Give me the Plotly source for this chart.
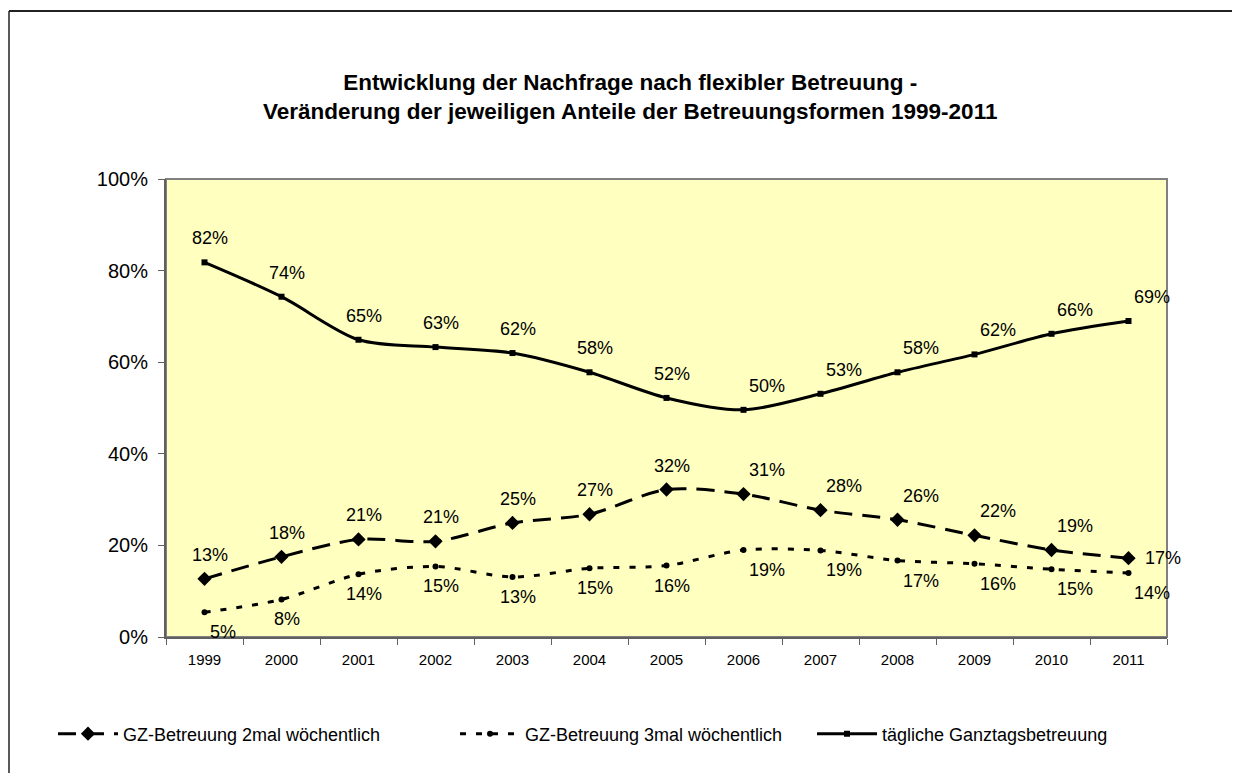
import plotly.graph_objects as go

years = ["1999", "2000", "2001", "2002", "2003", "2004", "2005", "2006", "2007", "2008", "2009", "2010", "2011"]
gz2 = [0.127, 0.175, 0.213, 0.209, 0.249, 0.268, 0.322, 0.312, 0.277, 0.256, 0.222, 0.190, 0.172]
gz3 = [0.054, 0.082, 0.137, 0.154, 0.131, 0.150, 0.156, 0.190, 0.189, 0.167, 0.160, 0.148, 0.140]
ganztag = [0.818, 0.743, 0.649, 0.633, 0.620, 0.578, 0.522, 0.496, 0.531, 0.578, 0.617, 0.662, 0.690]

names = ["GZ-Betreuung 2mal wöchentlich", "GZ-Betreuung 3mal wöchentlich", "tägliche Ganztagsbetreuung"]
title_lines = ["Entwicklung der Nachfrage nach flexibler Betreuung -",
               "Veränderung der jeweiligen Anteile der Betreuungsformen 1999-2011"]

# label placement codes: t=top, b=bottom, m=middle; c=center, r=right
pos_gz2 = ["tc"] * 7 + ["tr"] * 5 + ["mr"]
pos_gz3 = ["br", "bc", "bc", "bc", "bc", "bc", "bc", "br", "br", "br", "br", "br", "br"]
pos_gt = ["tc"] * 7 + ["tr"] * 6

FONT = "Liberation Sans, Arial, sans-serif"

# page geometry (the figure sits 8px in from the page corner)
OFF = 8
PL, PR, PT, PB = 166, 1167, 179, 637
PW, PH = PR - PL, PB - PT


def px(x):
    return (x - PL) / PW


def py(y):
    return (PB - y) / PH


SMOOTH = 0.85

fig = go.Figure()
fig.add_trace(go.Scatter(
    x=years, y=gz2, name=names[0], mode="lines+markers",
    line=dict(color="black", width=3, dash="18px,10px", shape="spline", smoothing=SMOOTH),
    marker=dict(symbol="diamond", size=11, color="black"),
    legend="legend"))
fig.add_trace(go.Scatter(
    x=years, y=gz3, name=names[1], mode="lines+markers",
    line=dict(color="black", width=3, dash="6px,10px", shape="spline", smoothing=SMOOTH),
    marker=dict(symbol="circle", size=6, color="black"),
    legend="legend2"))
fig.add_trace(go.Scatter(
    x=years, y=ganztag, name=names[2], mode="lines+markers",
    line=dict(color="black", width=3, shape="spline", smoothing=SMOOTH),
    marker=dict(symbol="square", size=6, color="black"),
    legend="legend3"))

annotations = []
for vals, poss in [(gz2, pos_gz2), (gz3, pos_gz3), (ganztag, pos_gt)]:
    for i, (v, p) in enumerate(zip(vals, poss)):
        a = dict(x=i, y=v, xref="x", yref="y", text=f"{round(v*100)}%", showarrow=False,
                 font=dict(family=FONT, size=18, color="black"))
        if p[0] == "t":
            a.update(yanchor="bottom", yshift=12)
        elif p[0] == "b":
            a.update(yanchor="top", yshift=-8)
        else:
            a.update(yanchor="middle")
        if p[1] == "c":
            a.update(xanchor="center", xshift=5)
        else:
            a.update(xanchor="left", xshift=3 if p[0] != "m" else 14)
        annotations.append(a)

annotations.append(dict(
    text="<b>" + title_lines[0] + "</b><br><b>" + title_lines[1] + "</b>",
    xref="paper", yref="paper", x=px(630), y=py(97),
    xanchor="center", yanchor="middle", showarrow=False,
    font=dict(family=FONT, size=22.5, color="black")))

leg = dict(y=py(734), xanchor="left", yanchor="middle", orientation="h",
           font=dict(size=18), bgcolor="rgba(0,0,0,0)", itemwidth=60)

fig.update_layout(
    width=1240, height=773,
    margin=dict(l=PL - OFF, r=1240 - (PR - OFF), t=PT - OFF, b=773 - (PB - OFF)),
    paper_bgcolor="white", plot_bgcolor="#FFFFC0",
    font=dict(family=FONT, color="black"),
    showlegend=True,
    annotations=annotations,
    legend=dict(leg, x=px(53)),
    legend2=dict(leg, x=px(455)),
    legend3=dict(leg, x=px(812)),
    shapes=[
        dict(type="line", xref="paper", yref="paper", x0=px(OFF + 1), x1=px(1250),
             y0=py(11), y1=py(11), line=dict(color="#222", width=2)),
        dict(type="line", xref="paper", yref="paper", x0=px(OFF + 1), x1=px(OFF + 1),
             y0=py(11), y1=py(790), line=dict(color="#222", width=1.5)),
        dict(type="rect", xref="paper", yref="paper", x0=0, x1=1, y0=0, y1=1,
             line=dict(color="#808080", width=2), layer="below"),
    ],
)
fig.update_xaxes(
    type="category", range=[-0.5, 12.5], tickson="boundaries", ticks="outside", ticklen=6,
    tickcolor="#606060", showline=True, linecolor="#606060", linewidth=2, showgrid=False,
    tickfont=dict(size=15), zeroline=False, ticklabelstandoff=8)
fig.update_yaxes(
    range=[0, 1], tickvals=[0, 0.2, 0.4, 0.6, 0.8, 1.0], tickformat=".0%", ticks="outside",
    ticklen=6, tickcolor="#606060", showline=True, linecolor="#606060", linewidth=2,
    showgrid=False, tickfont=dict(size=20), zeroline=False, ticklabelstandoff=6)

fig.write_html("out.html")
